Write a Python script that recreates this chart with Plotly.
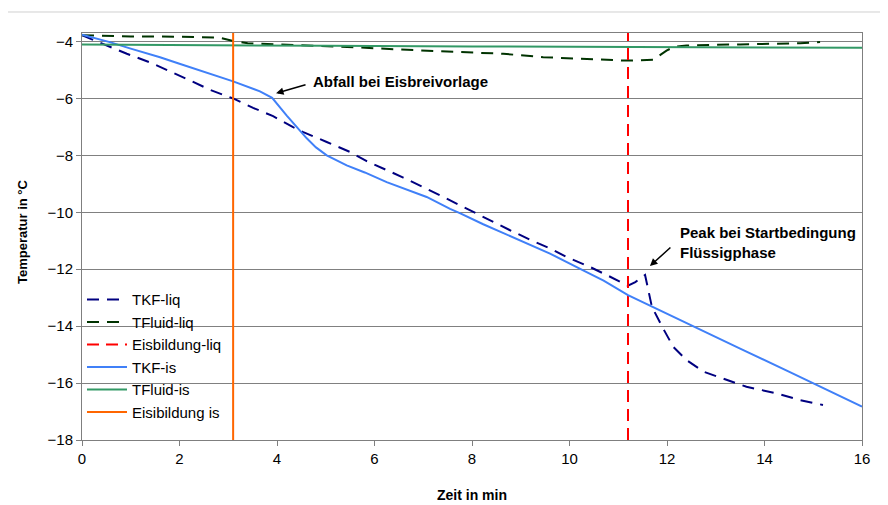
import plotly.graph_objects as go

# ---- data ----
tkf_liq_x = [0, 0.57, 0.92, 1.39, 1.81, 2.22, 2.63, 3.1, 3.51, 3.72, 3.92, 4.33, 4.54, 5.02, 5.5, 5.84,
             6.59, 7.34, 7.62, 8.09, 8.78, 9.19, 9.6, 9.94, 10.42, 10.77, 11.1, 11.2, 11.35, 11.5, 11.55,
             11.69, 11.79, 11.92, 12.13, 12.4, 12.75, 13.22, 13.63, 14.25, 14.73, 15.2]
tkf_liq_y = [-3.78, -4.2, -4.43, -4.73, -5.04, -5.37, -5.7, -6.0, -6.33, -6.48, -6.62, -7.01, -7.18, -7.53,
             -7.88, -8.2, -8.78, -9.4, -9.64, -10.05, -10.63, -10.96, -11.27, -11.57, -11.92, -12.21, -12.5,
             -12.58, -12.45, -12.24, -12.2, -13.32, -13.67, -14.08, -14.73, -15.19, -15.6, -15.89, -16.13,
             -16.36, -16.6, -16.77]

tfluid_liq_x = [0, 0.5, 1.0, 2.0, 2.8, 3.1, 3.4, 4.0, 5.0, 5.6, 6.5, 7.5, 8.64, 9.46, 10.28, 11.17, 11.72,
                11.85, 11.99, 12.15, 12.4, 13.5, 14.73, 15.14]
tfluid_liq_y = [-3.78, -3.8, -3.82, -3.83, -3.86, -3.98, -4.06, -4.1, -4.15, -4.2, -4.28, -4.36, -4.43,
                -4.55, -4.61, -4.67, -4.64, -4.5, -4.32, -4.18, -4.14, -4.1, -4.06, -4.02]

tkf_is_x = [0, 0.57, 1.0, 1.6, 2.0, 2.42, 3.1, 3.65, 3.9, 4.2, 4.47, 4.61, 4.8, 5.02, 5.43, 5.8, 6.25,
            6.6, 7.07, 7.55, 7.75, 8.23, 8.6, 8.92, 9.6, 10.28, 10.7, 11.2, 12.54, 13.5, 14.5, 15.0, 16.0]
tkf_is_y = [-3.76, -4.02, -4.25, -4.55, -4.78, -5.02, -5.40, -5.75, -5.98, -6.6, -7.12, -7.4, -7.72, -8.0,
            -8.35, -8.6, -8.94, -9.15, -9.46, -9.88, -10.03, -10.42, -10.7, -10.93, -11.45, -12.04, -12.4,
            -12.91, -14.02, -14.79, -15.6, -16.01, -16.83]

tfluid_is_x = [0, 2, 5, 8, 11, 12, 16]
tfluid_is_y = [-4.1, -4.13, -4.15, -4.17, -4.18, -4.2, -4.22]

eis_liq_t = 11.2
eis_is_t = 3.1
y_min, y_max = -18, -3.7

fig = go.Figure()
fig.add_trace(go.Scatter(x=tkf_liq_x, y=tkf_liq_y, mode="lines", name="TKF-liq",
                         line=dict(color="#000080", width=2, dash="12px,8px")))
fig.add_trace(go.Scatter(x=tfluid_liq_x, y=tfluid_liq_y, mode="lines", name="TFluid-liq",
                         line=dict(color="#003300", width=2, dash="12px,8px")))
fig.add_trace(go.Scatter(x=[eis_liq_t, eis_liq_t], y=[y_min, y_max], mode="lines", name="Eisbildung-liq",
                         line=dict(color="#FF0000", width=2, dash="12px,7px")))
fig.add_trace(go.Scatter(x=tkf_is_x, y=tkf_is_y, mode="lines", name="TKF-is",
                         line=dict(color="#4080F8", width=2)))
fig.add_trace(go.Scatter(x=tfluid_is_x, y=tfluid_is_y, mode="lines", name="TFluid-is",
                         line=dict(color="#339966", width=2)))
fig.add_trace(go.Scatter(x=[eis_is_t, eis_is_t], y=[y_min, y_max], mode="lines", name="Eisibildung is",
                         line=dict(color="#FF6600", width=2)))

font = "Liberation Sans, Arial, sans-serif"
fig.update_layout(
    width=888, height=505,
    margin=dict(l=74, r=34, t=25, b=73, autoexpand=False),
    paper_bgcolor="white", plot_bgcolor="white",
    font=dict(family=font, size=15, color="black"),
    showlegend=True,
    legend=dict(x=0.0, y=0.385, xanchor="left", yanchor="top", bgcolor="rgba(0,0,0,0)",
                font=dict(size=15), itemwidth=40, tracegroupgap=0),
    xaxis=dict(range=[0, 16], tickvals=[0, 2, 4, 6, 8, 10, 12, 14, 16], showgrid=False,
               showline=True, linecolor="#7F7F7F", linewidth=1, mirror=True, automargin=False,
               ticks="outside", ticklen=5, tickcolor="#7F7F7F", zeroline=False,
               title=dict(text="<b>Zeit in min</b>", standoff=24, font=dict(size=14))),
    yaxis=dict(range=[y_min, y_max], tickvals=[-18, -16, -14, -12, -10, -8, -6, -4],
               showgrid=True, gridcolor="#808080", gridwidth=1, automargin=False,
               showline=True, linecolor="#7F7F7F", linewidth=1, mirror=True,
               ticks="outside", ticklen=5, tickcolor="#7F7F7F", zeroline=False),
)

fig.add_annotation(xref="paper", yref="paper", x=(22 - 82) / 780, y=(440 - 232) / 407,
                   xanchor="center", yanchor="middle", textangle=-90, showarrow=False,
                   text="<b>Temperatur in °C</b>", font=dict(size=13))

fig.add_shape(type="rect", xref="paper", yref="paper", x0=-0.0962, y0=-0.4, x1=1.2, y1=1.0516,
              line=dict(color="#D0D0D0", width=1), layer="below")

fig.add_annotation(x=3.98, y=-5.82, ax=31, ay=-9, text="", showarrow=True, arrowhead=2,
                   arrowsize=1, arrowwidth=1.5, arrowcolor="black")
fig.add_annotation(x=(311 - 82) / 48.75, y=-4 - (81 - 41) / 28.5, xanchor="left", yanchor="middle",
                   text="<b>Abfall bei Eisbreivorlage</b>", showarrow=False, font=dict(size=15))
fig.add_annotation(x=11.65, y=-11.89, ax=22, ay=-20, text="", showarrow=True, arrowhead=2,
                   arrowsize=1, arrowwidth=1.5, arrowcolor="black")
fig.add_annotation(x=(678 - 82) / 48.75, y=-4 - (242.5 - 41) / 28.5, xanchor="left", yanchor="middle",
                   align="left", text="<b>Peak bei Startbedingung<br>Flüssigphase</b>",
                   showarrow=False, font=dict(size=15))

fig.write_html("out.html")
